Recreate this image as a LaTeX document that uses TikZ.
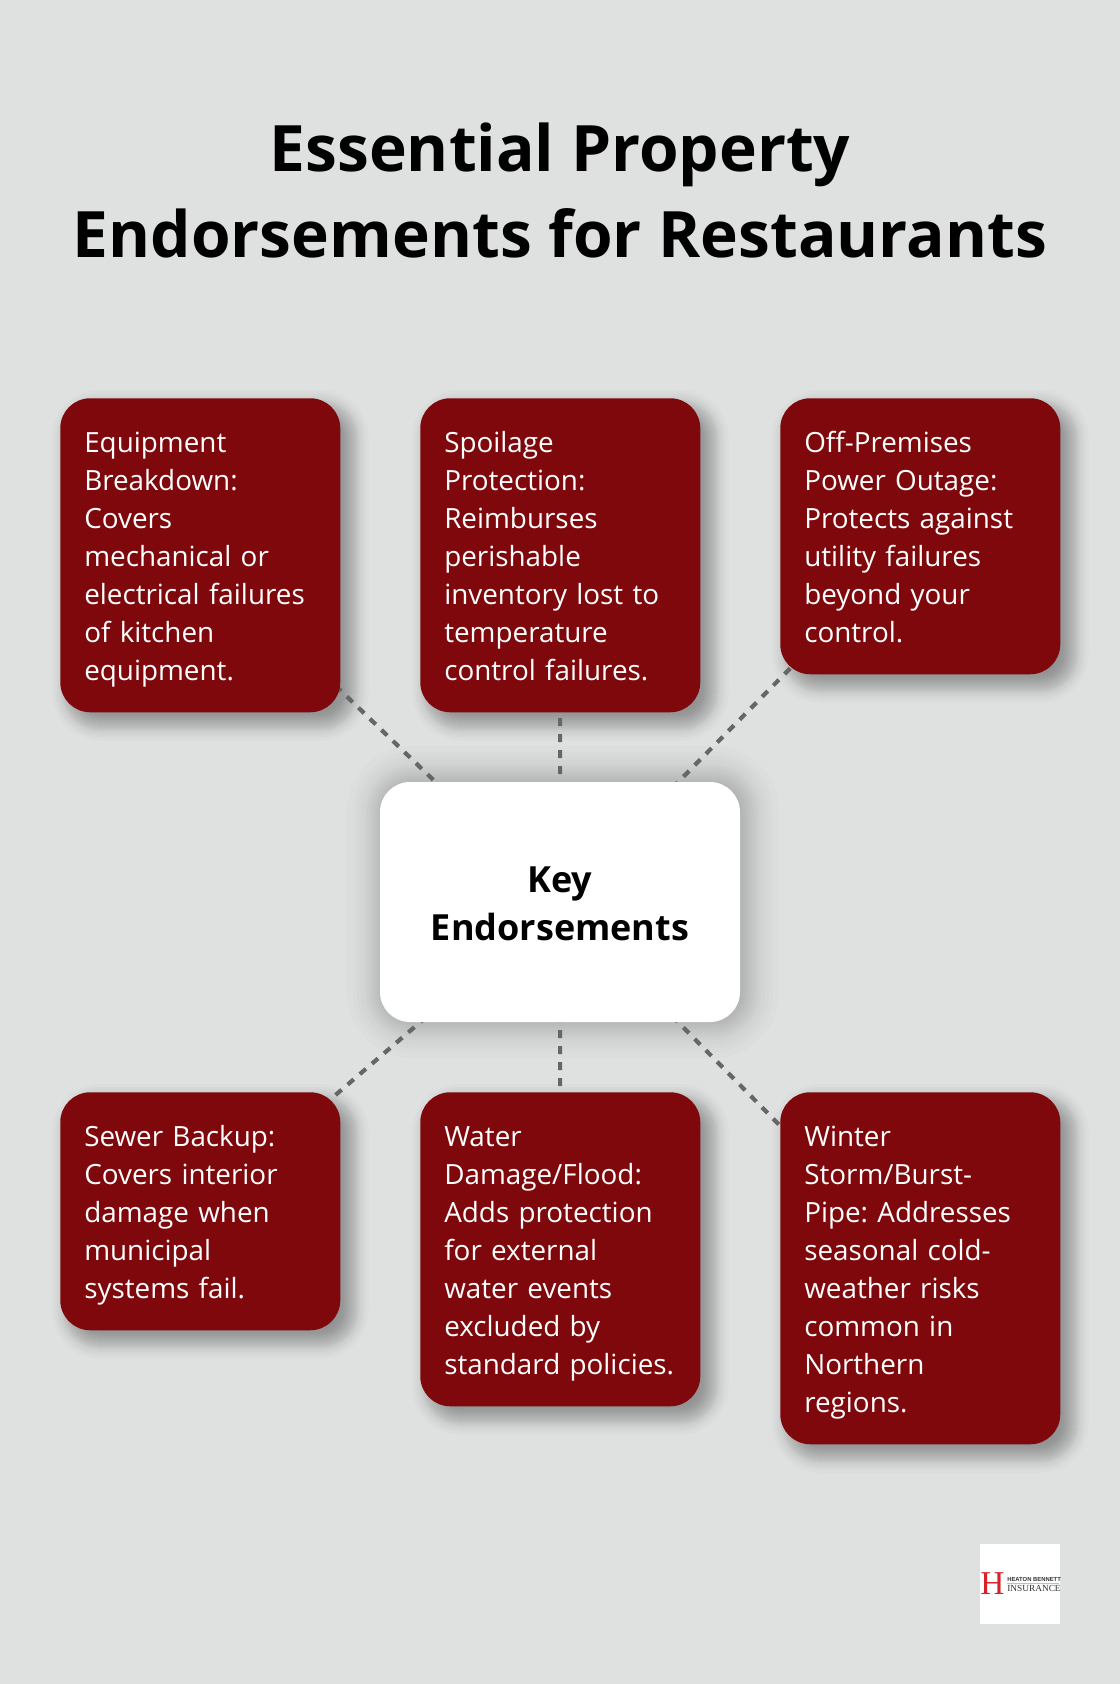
\documentclass[tikz,border=0pt]{standalone}
\usepackage{fontspec}
\setmainfont{Open Sans}
\newfontfamily\logoserif{Liberation Serif}
\newfontfamily\logosans{Liberation Sans}
\usetikzlibrary{calc}
\pgfdeclarelayer{shadowlayer}
\pgfdeclarelayer{linelayer}
\pgfsetlayers{shadowlayer,linelayer,main}
\definecolor{pagebg}{HTML}{DFE1E0}
\definecolor{boxred}{HTML}{7E080C}
\definecolor{linegray}{HTML}{666666}
\definecolor{logored}{HTML}{D8202A}
\tikzset{
  cardbox/.style={fill=boxred,text=white,rounded corners=22.5pt,inner xsep=18pt,inner ysep=0pt,
    text width=174pt,minimum width=210pt,align=left,anchor=north west,
    font=\fontsize{20.87pt}{28.5pt}\selectfont\frenchspacing,
    execute at begin node={\rule{0pt}{23pt}},execute at end node={\rule[-5.5pt]{0pt}{5.5pt}}},
  keybox/.style={fill=white,text=black,rounded corners=22.5pt,minimum width=270pt,minimum height=180pt,
    align=center,font=\fontsize{27pt}{36pt}\selectfont\bfseries},
  titletext/.style={align=center,text=black,font=\fontsize{48pt}{64.5pt}\selectfont\bfseries},
  spoke/.style={draw=linegray,line width=3.15pt,dash pattern=on 6pt off 6pt},
}
% node, x offset, y offset, spread factor (px), layer opacity
\newcommand{\softshadow}[5]{%
  \begin{pgfonlayer}{shadowlayer}
    \foreach \e in {-14,-11,-9,-7,-6,-5,-4,-3,-2,-1,0,1,2,3,4,5,6,7,8,9,11,13,15,18}{
      \pgfmathsetmacro{\d}{\e*#4}
      \pgfmathsetmacro{\rr}{max(1,22.5+0.75*\d)}
      \fill[black,opacity=#5,rounded corners=\rr pt]
        ($(#1.north west)+(#2-\d,#3-\d)$) rectangle ($(#1.south east)+(#2+\d,#3+\d)$);
    }
  \end{pgfonlayer}}
\begin{document}
\begin{tikzpicture}[x=0.75pt,y=-0.75pt]
\begin{pgfonlayer}{shadowlayer}
\fill[pagebg] (0,0) rectangle (1120,1684);
\end{pgfonlayer}
\useasboundingbox (0,0) rectangle (1120,1684);
\node[titletext] (title) at (560,190) {Essential Property\\Endorsements for Restaurants};
\node[keybox] (key) at (560,902) {\rule{0pt}{22.5pt}Key\\Endorsements};
\node[cardbox,minimum height=235.5pt] (a) at (60,398) {Equipment\\Breakdown:\\Covers\\mechanical or\\electrical failures\\of kitchen\\equipment.};
\node[cardbox,minimum height=235.5pt] (b) at (420,398) {Spoilage\\Protection:\\Reimburses\\perishable\\inventory lost to\\temperature\\control failures.};
\node[cardbox,minimum height=207pt] (c) at (780,398) {Off-Premises\\Power Outage:\\Protects against\\utility failures\\beyond your\\control.};
\node[cardbox,minimum height=178.5pt] (d) at (60,1092) {Sewer Backup:\\Covers interior\\damage when\\municipal\\systems fail.};
\node[cardbox,minimum height=235.5pt] (e) at (420,1092) {Water\\Damage/Flood:\\Adds protection\\for external\\water events\\excluded by\\standard policies.};
\node[cardbox,minimum height=264pt] (f) at (780,1092) {Winter\\Storm/Burst-\\Pipe: Addresses\\seasonal cold-\\weather risks\\common in\\Northern\\regions.};
\softshadow{key}{3}{0}{2}{0.011}
\softshadow{a}{10}{10}{1}{0.016}\softshadow{b}{10}{10}{1}{0.016}\softshadow{c}{10}{10}{1}{0.016}
\softshadow{d}{10}{10}{1}{0.016}\softshadow{e}{10}{10}{1}{0.016}\softshadow{f}{10}{10}{1}{0.016}
\begin{pgfonlayer}{linelayer}
\foreach \n in {a,b,c,d,e,f}{\draw[spoke] (key.center) -- (\n.center);}
\end{pgfonlayer}
% logo
\node[fill=white,minimum width=60pt,minimum height=60pt,inner sep=0pt] (logo) at (1020,1584) {};
\node[text=logored,inner sep=0pt,font=\logoserif\fontsize{25pt}{25pt}\selectfont] (logoh) at (992.5,1584) {H};
\draw[black!25,line width=0.3pt] (1007,1583.5) -- (1059,1583.5);
\node[inner sep=0pt,anchor=west,text=black!80,font=\logosans\bfseries\fontsize{4.4pt}{5pt}\selectfont] (logoa) at (1007,1579) {HEATON BENNETT};
\node[inner sep=0pt,anchor=west,text=black!80,font=\logoserif\fontsize{7pt}{8pt}\selectfont] (logob) at (1007,1588.5) {INSURANCE};
\end{tikzpicture}
\end{document}
